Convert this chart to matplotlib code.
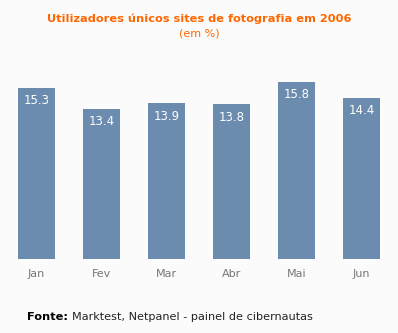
import matplotlib
matplotlib.use('Agg')
import matplotlib.pyplot as plt

meses = ['Jan', 'Fev', 'Mar', 'Abr', 'Mai', 'Jun']
valores = [15.3, 13.4, 13.9, 13.8, 15.8, 14.4]

W, H = 398, 333
fig = plt.figure(figsize=(W / 100, H / 100), dpi=100)
fig.patch.set_facecolor('#fbfbfb')

# eixo em coordenadas de pixel: 4..394 em x, base em y=259
ax = fig.add_axes([4 / W, 1 - 259 / H, 390 / W, 201.6 / H])
ax.set_facecolor('#fbfbfb')
x = list(range(len(meses)))
barras = ax.bar(x, valores, width=37 / 65, color='#6b8caf')
ax.set_xlim(-0.5, 5.5)
ax.set_ylim(0, 18)
for s in ax.spines.values():
    s.set_visible(False)
ax.set_yticks([])
ax.set_xticks(x)
ax.set_xticklabels(meses, color='#777777', fontsize=8)
ax.tick_params(axis='x', length=0, pad=7)

for xi, v in zip(x, valores):
    ax.annotate(f'{v:.1f}', (xi, v), xytext=(0, -4.5), textcoords='offset points',
                ha='center', va='top', color='white', fontsize=8.5)

fig.text(0.5, 1 - 19 / H, 'Utilizadores únicos sites de fotografia em 2006',
         ha='center', va='center', color='#ff6600', fontsize=8.2, fontweight='bold')
fig.text(0.5, 1 - 34 / H, '(em %)', ha='center', va='center',
         color='#ff6600', fontsize=8)

fig.text(27 / W, 1 - 317 / H, 'Fonte:', ha='left', va='center',
         color='black', fontsize=8.2, fontweight='bold')
fig.text(72 / W, 1 - 317 / H, 'Marktest, Netpanel - painel de cibernautas',
         ha='left', va='center', color='#222222', fontsize=8.1)

fig.savefig('out.png', dpi=100, facecolor=fig.get_facecolor())
